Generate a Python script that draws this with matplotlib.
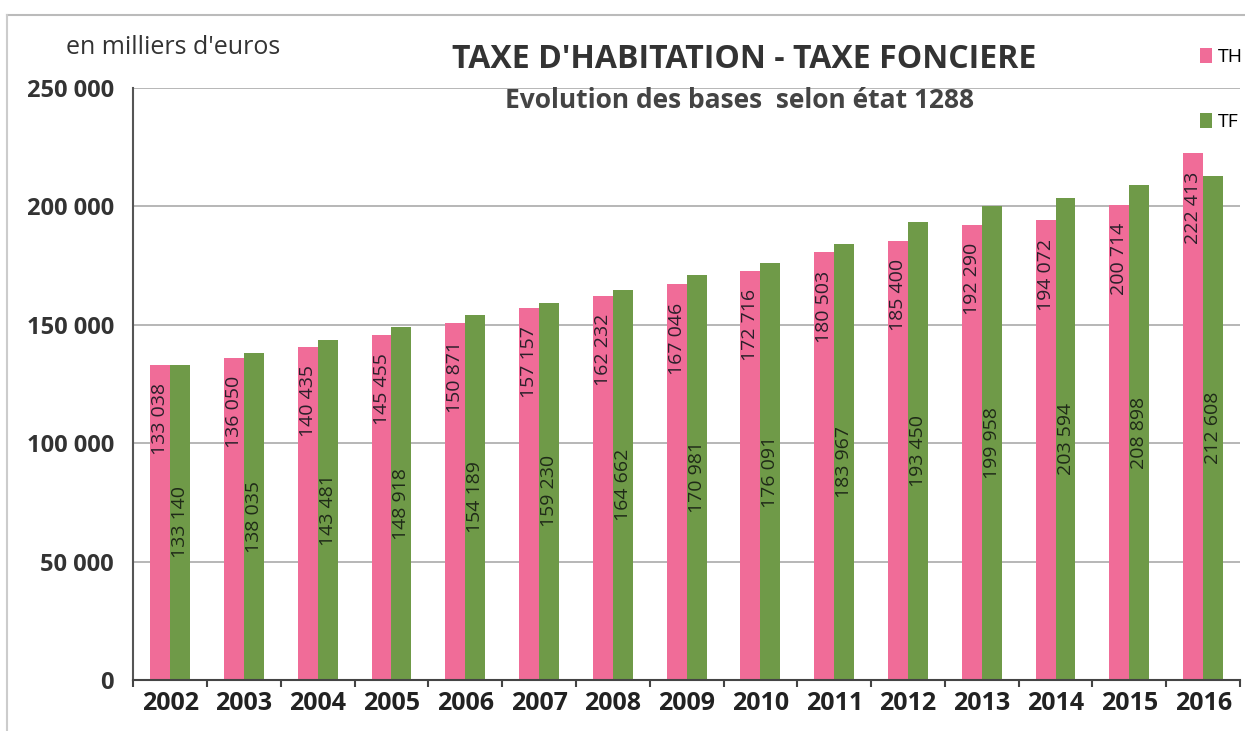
import matplotlib.pyplot as plt
import numpy as np

years = ["2002", "2003", "2004", "2005", "2006", "2007", "2008", "2009",
         "2010", "2011", "2012", "2013", "2014", "2015", "2016"]
th = [133038, 136050, 140435, 145455, 150871, 157157, 162232, 167046,
      172716, 180503, 185400, 192290, 194072, 200714, 222413]
tf = [133140, 138035, 143481, 148918, 154189, 159230, 164662, 170981,
      176091, 183967, 193450, 199958, 203594, 208898, 212608]
yticks = [0, 50000, 100000, 150000, 200000, 250000]

pink = "#f06c98"
green = "#6f9a48"

plt.rcParams['font.family'] = ['Open Sans', 'DejaVu Sans']

def fmt(v):
    return f"{v:,}".replace(",", " ")

fig = plt.figure(figsize=(12.45, 7.31), dpi=100)
ax = fig.add_axes([0.107, 0.0698, 0.889, 0.81])

x = np.arange(len(years))
w = 0.27
b1 = ax.bar(x - w / 2, th, w, color=pink, label="TH", zorder=2)
b2 = ax.bar(x + w / 2, tf, w, color=green, label="TF", zorder=2)

# data labels: TH near top of bar, TF centred
for xi, v in zip(x, th):
    ax.annotate(fmt(v), (xi - w / 2, v), xytext=(0, -13), textcoords="offset points",
                rotation=90, ha="center", va="top", fontsize=14,
                color="#2a1f2a", zorder=3)
for xi, v in zip(x, tf):
    ax.text(xi + w / 2, v / 2, fmt(v), rotation=90, ha="center", va="center",
            fontsize=14, color="#1f2a18", zorder=3)

ax.set_xlim(-0.5, 14.5)
ax.set_ylim(0, 250000)
ax.set_yticks(yticks)
ax.set_yticklabels([fmt(t) for t in yticks], fontsize=17, fontweight="bold",
                   color="#333333")
ax.set_xticks(x)
ax.set_xticklabels(years, fontsize=18, fontweight="bold", color="#222222")
ax.tick_params(axis="y", length=0, pad=14)
ax.tick_params(axis="x", length=5, width=1.5, color="#444444", pad=8)
ax.set_xticks(np.arange(-0.5, 15, 1), minor=True)
ax.tick_params(axis="x", which="minor", length=5, width=1.5, color="#444444")
ax.tick_params(axis="x", which="major", length=0)

ax.grid(axis="y", color="#aaaaaa", linewidth=1.2, zorder=0)
for s in ["top", "right"]:
    ax.spines[s].set_visible(False)
ax.spines["left"].set_color("#555555")
ax.spines["left"].set_linewidth(1.5)
ax.spines["bottom"].set_color("#444444")
ax.spines["bottom"].set_linewidth(1.5)

fig.text(0.053, 0.935, "en milliers d'euros", fontsize=18, color="#333333",
         va="center")
fig.text(0.598, 0.918, "TAXE D'HABITATION - TAXE FONCIERE", fontsize=23,
         fontweight="bold", color="#333333", ha="center", va="center")
fig.text(0.594, 0.862, "Evolution des bases  selon état 1288", fontsize=19,
         fontweight="bold", color="#444444", ha="center", va="center")

fig.legend(handles=[b1, b2], loc="upper left", bbox_to_anchor=(0.958, 0.945),
           frameon=False, fontsize=14, handlelength=0.6, handleheight=0.8,
           labelspacing=2.4, handletextpad=0.3, borderaxespad=0)

# faint border of the scanned chart
fig.add_artist(plt.Line2D([0.006, 1.0], [0.98, 0.98], color="#bbbbbb", lw=1.5))
fig.add_artist(plt.Line2D([0.006, 0.006], [0.0, 0.98], color="#cccccc", lw=1.5))

fig.savefig("out.png", dpi=100)
